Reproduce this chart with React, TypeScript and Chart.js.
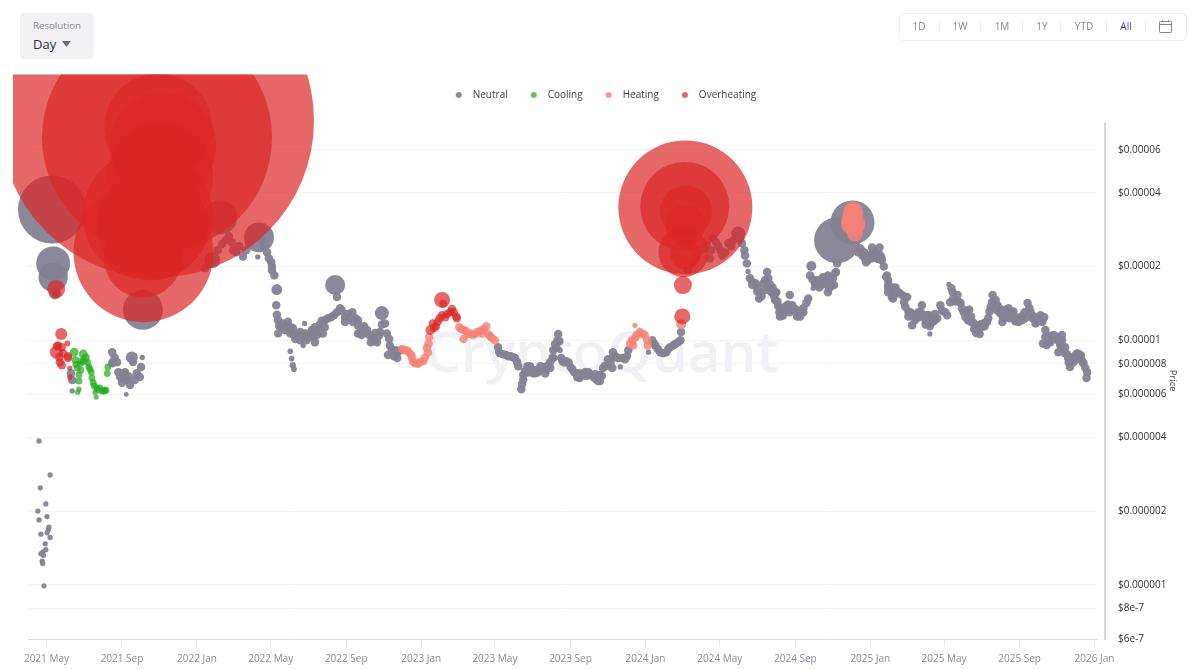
import React, { useEffect, useRef } from "react";
import { Chart, registerables } from "chart.js";

Chart.register(...registerables);

// x = days since 1 May 2021; price in millionths of a dollar; optional third value = bubble size value
type Row = number[];

const PRICE_UNIT = 1e-6;
const DEFAULT_SIZE = 18;

const tickDays = [0, 123, 245, 365, 488, 610, 730, 853, 975, 1096, 1219, 1341, 1461, 1584, 1706];
const tickLabels = ["2021 May", "2021 Sep", "2022 Jan", "2022 May", "2022 Sep", "2023 Jan", "2023 May", "2023 Sep", "2024 Jan", "2024 May", "2024 Sep", "2025 Jan", "2025 May", "2025 Sep", "2026 Jan"];
const priceTicks = [6e-5, 4e-5, 2e-5, 1e-5, 8e-6, 6e-6, 4e-6, 2e-6, 1e-6, 8e-7, 6e-7];
const priceTickLabels = ["$0.00006", "$0.00004", "$0.00002", "$0.00001", "$0.000008", "$0.000006", "$0.000004", "$0.000002", "$0.000001", "$8e-7", "$6e-7"];

const neutralLaunch: Row[] = [
  [-12, 3.87, 7], [6, 2.81, 7], [-10, 2.49, 7], [-1, 2.14, 7], [-14, 2.0, 7], [-12, 1.84, 7], [1, 1.9, 7], [4, 1.72, 7], [3, 1.68, 7], [1, 1.63, 7],
  [-9, 1.61, 7], [6, 1.56, 7], [-2, 1.47, 7], [-1, 1.39, 7], [-6, 1.36, 7], [-9, 1.34, 7], [-5, 1.32, 7], [-7, 1.25, 7], [-6, 1.22, 7], [-4, 0.99, 7],
];

const neutralBubbles: Row[] = [
  [9, 34.2, 1156], [11, 20.6, 289], [11, 18.1, 216], [14, 15.5, 36], [157, 13.3, 400], [283, 31.8, 289], [270, 21.2, 64], [346, 26.3, 225],
  [470, 16.8, 100], [546, 12.9, 49], [1245, 20.1, 25], [1287, 25.6, 529], [1312, 30.3, 484], [375, 16.1, 30], [1126, 27.3, 49],
];

const neutral2021: Row[] = [
  [42, 6.87], [40, 7.33], [42, 6.2, 7], [107, 8.93], [108, 8.13], [107, 8.05], [115, 8.13], [117, 7.4], [120, 7.07], [128, 7.4], [131, 6.87],
  [136, 6.55], [123, 6.7], [130, 6.0, 6], [139, 8.5, 36], [141, 8.13, 16], [156, 8.5, 7], [154, 7.77], [147, 7.33], [152, 7.07], [144, 6.87],
  [124, 7.0], [134, 7.1], [111, 8.5], [126, 7.3],
];

const neutral2022: Row[] = [
  [258, 19.7], [265, 20.8], [270, 22.0], [275, 21.6], [279, 23.3], [286, 24.7], [292, 25.6], [297, 26.6], [302, 25.1], [304, 23.3], [309, 22.9], [314, 24.2],
  [320, 22.0], [325, 23.3], [330, 24.7], [335, 26.1], [340, 27.1], [344, 21.9, 7], [351, 25.6], [354, 24.2], [359, 22.9], [362, 21.6], [366, 20.8], [367, 20.0],
  [367, 19.3], [371, 18.4], [374, 13.9], [375, 12.7], [377, 12.07], [379, 11.4], [377, 10.65, 16], [382, 11.4], [385, 11.7], [390, 11.4], [393, 11.9], [397, 11.3],
  [397, 10.65], [401, 10.65], [405, 10.5], [405, 10.1], [410, 10.6], [413, 10.8], [416, 10.5], [418, 9.5, 7], [420, 11.7, 7], [421, 10.65], [426, 10.3], [429, 10.65],
  [432, 11], [437, 11.3], [437, 9.8], [442, 10.65], [445, 11.1], [448, 12], [450, 10.65], [453, 12.07], [458, 12.3], [463, 12.4], [468, 12.65], [473, 15], [473, 13],
  [478, 13.5], [481, 13.2], [486, 12.4], [491, 12.8], [498, 13], [499, 11.85], [503, 12.3], [507, 11.5], [507, 10.65], [512, 11.1], [517, 11.4], [522, 11], [527, 10.4],
  [532, 10.3], [535, 10], [538, 9.8], [541, 10.4], [543, 10.8], [546, 11.6], [551, 11.7], [554, 10.65], [558, 10.1], [559, 9.5], [562, 9.2], [556, 8.7], [568, 9.1],
  [566, 8.6], [571, 8.9], [571, 8.45], [576, 9.1],
  [397, 9.0, 8], [399, 8.4, 8], [401, 7.9, 10], [403, 7.6, 8],
  [388, 11], [401, 11.2], [413, 10], [423, 10], [432, 10.3], [440, 10.5], [445, 11.6], [453, 11.3], [486, 11.85], [495, 12.3], [507, 12.07], [513, 10.5], [520, 10.7], [528, 9.8], [535, 10.7],
];

const neutral2023: Row[] = [
  [735, 9.35], [737, 8.95], [738, 8.85], [743, 8.75], [748, 8.7], [752, 8.6], [756, 8.6], [760, 8.5], [763, 8.45], [766, 8.15], [768, 7.82], [774, 6.61], [773, 6.3],
  [776, 6.87], [776, 7.2], [779, 7.47], [783, 7.82], [784, 7.4], [789, 7.6], [792, 7.33], [796, 7.54], [800, 7.4], [805, 7.69], [809, 7.77], [813, 7.6], [817, 7.9],
  [820, 8.15], [824, 8.5], [825, 9.1], [828, 9.63], [832, 10], [833, 10.6], [835, 9.9], [836, 9.1, 8], [838, 8.45], [840, 8.2], [843, 8.1], [846, 8.2], [850, 8.1],
  [853, 7.77], [856, 7.6], [859, 7.4], [864, 7.05], [866, 7.33], [870, 7.2], [874, 7.33], [879, 7.13], [882, 7.4], [885, 7.25], [889, 7.13], [892, 7], [896, 6.87],
  [901, 6.8], [904, 7.13], [906, 7.69], [909, 7.85], [914, 7.85], [918, 8.05], [921, 8.45], [922, 8.93], [926, 8.6], [930, 8.45], [934, 7.77, 7], [937, 8.45], [942, 8.35],
  [945, 8.6], [947, 9.1], [980, 8.93, 7], [986, 10], [989, 9.7], [991, 9.5], [995, 9.2], [999, 8.93], [1004, 8.85], [1009, 8.93], [1012, 9.2], [1015, 9.35], [1020, 9.5],
  [1023, 9.63], [1028, 9.8], [1032, 10], [1033, 10.8],
  [783, 7.4], [787, 7.82], [796, 7.33], [804, 7.82], [812, 7.3], [820, 7.69], [825, 8.45], [830, 9.3], [868, 7], [877, 7.4], [893, 7.25], [898, 6.8], [914, 8.35], [921, 7.69], [901, 7.2],
];

const neutral2024: Row[] = [
  [1044, 19.3], [1051, 20.8], [1058, 22], [1064, 23.3], [1071, 23.7], [1075, 24.4], [1080, 21.6], [1082, 23.3], [1085, 26.1], [1090, 25.1], [1093, 24.4], [1097, 23.3],
  [1100, 22.2], [1105, 22.9], [1110, 24.9], [1115, 24.2], [1118, 25.6], [1123, 26.6], [1129, 26.1], [1132, 24.9], [1136, 23.3], [1137, 22.2], [1140, 20.6], [1142, 19.1, 7],
  [1145, 17.9], [1149, 17.3], [1154, 17.1], [1157, 16.4], [1160, 14.8], [1162, 15.7], [1167, 17.1], [1170, 17.6], [1173, 19], [1175, 17.9], [1178, 16.9], [1182, 16.4],
  [1183, 15.5], [1186, 15.7], [1190, 14.4], [1191, 13.8], [1193, 13], [1194, 13.5], [1198, 13.2], [1202, 13.3], [1207, 14], [1210, 15.3], [1214, 13.9], [1219, 13.4],
  [1223, 13], [1227, 13.2], [1232, 13.5], [1237, 14.2], [1240, 14.8], [1248, 16.3, 7], [1243, 18.4], [1247, 17.7], [1251, 17], [1255, 17.6], [1260, 17.4], [1264, 18.1],
  [1269, 17.1], [1272, 18.4], [1276, 16.5], [1276, 17.4], [1280, 17.9], [1284, 18.8], [1287, 20.6],
  [1149, 16.8], [1157, 15.8], [1164, 15.1], [1169, 16], [1175, 16.4], [1180, 15.7], [1185, 15], [1188, 15.7],
  [1202, 13.7], [1186, 14.6], [1210, 13], [1222, 12.5], [1232, 13], [1227, 12.5], [1199, 12.6], [1194, 12.5], [1215, 13.3],
  [1263, 16.9], [1268, 17.9], [1274, 16.3], [1279, 16.9], [1272, 15.7], [1282, 16.8], [1258, 16.4], [1253, 16.9], [1285, 19],
];

const neutral2025: Row[] = [
  [1328, 22.2], [1325, 23.7], [1332, 21.6], [1337, 21.2], [1341, 22.4], [1344, 23.9], [1349, 22.9], [1352, 21.6], [1356, 23.9], [1356, 22.4], [1360, 21.2], [1363, 20],
  [1368, 18.4], [1370, 17.6], [1370, 16.8], [1373, 16.6], [1378, 16.3], [1376, 15], [1383, 15.8], [1388, 15.5], [1393, 15.3], [1398, 15], [1401, 15], [1396, 14.3],
  [1398, 13.7], [1403, 13.1], [1406, 13], [1409, 11.5], [1411, 12.5], [1414, 12.65], [1419, 13], [1425, 13.9], [1427, 12.65], [1432, 12.65], [1438, 12.3], [1438, 10.6, 7],
  [1438, 11.4], [1443, 11.9], [1446, 12.07], [1450, 12.3], [1455, 13.9], [1458, 13.2], [1463, 13], [1466, 12.65], [1469, 16.9, 7], [1473, 16.3], [1475, 15.7], [1471, 14.3],
  [1476, 14.8], [1480, 14.4], [1483, 15.3], [1485, 14.4], [1488, 14.2], [1490, 13.5], [1493, 13], [1497, 13.2], [1502, 13.3], [1500, 12.07], [1505, 12.5], [1508, 11.85],
  [1512, 11.4], [1513, 10.7], [1517, 11.5], [1520, 11.6], [1525, 11.7], [1529, 11.85], [1533, 12.3], [1535, 13.1], [1537, 13.7], [1539, 14.3], [1540, 15.3], [1545, 14.6],
  [1548, 13.9], [1551, 13.5], [1554, 12.8], [1556, 11.85], [1559, 12.5], [1561, 13.3], [1566, 13.5], [1569, 13], [1574, 13.1], [1577, 12.4], [1580, 12.07], [1585, 12.3],
  [1588, 12.07], [1592, 13], [1597, 14.2], [1600, 13.5], [1602, 13], [1607, 12.5], [1610, 11.7], [1615, 12.2], [1618, 12.65], [1621, 11.85], [1626, 11], [1622, 9.7],
  [1626, 10.3], [1631, 10], [1634, 10.4], [1639, 10.5], [1642, 10.2], [1646, 10], [1650, 10], [1653, 10], [1647, 8.93], [1652, 9.35], [1655, 9.28], [1658, 8.85],
  [1663, 8.45], [1661, 8.75], [1666, 7.77], [1670, 8.45], [1675, 8.7], [1678, 8.85], [1680, 8.5], [1683, 8.45], [1686, 8.2], [1688, 8.05], [1691, 7.69], [1694, 7.4], [1693, 7.0],
  [1331, 22.9], [1321, 22.9], [1337, 22.2], [1344, 21.6], [1351, 22.4], [1355, 21.4], [1359, 21.8], [1334, 20.8],
  [1367, 18.1], [1370, 16.4], [1377, 16.3], [1382, 16.4], [1387, 15.7], [1377, 15.3], [1378, 14.8], [1370, 15.7],
  [1403, 12.5], [1409, 12.8], [1414, 12.07], [1419, 12.4], [1423, 13], [1431, 12.07], [1436, 12.65], [1443, 12.3], [1446, 12.8], [1425, 12.5], [1431, 11.6], [1437, 11.85],
  [1496, 12.4], [1505, 11.85], [1510, 11.1], [1517, 11], [1522, 11.3], [1527, 11.4], [1531, 11.85], [1519, 10.6],
  [1546, 13.3], [1551, 13], [1557, 13], [1563, 12.5], [1567, 12.3], [1572, 12.5], [1577, 11.95], [1582, 11.85], [1587, 12.5], [1593, 12.3], [1605, 12.3], [1611, 12.07], [1618, 12.07], [1624, 12.4], [1557, 12.3],
  [1628, 9.55], [1634, 9.8], [1642, 10.4], [1650, 9.55], [1653, 10.5], [1658, 9.35], [1667, 8.5], [1671, 8.1], [1675, 8.3], [1681, 8.75], [1676, 8.45], [1684, 8.65], [1664, 8.1],
];

const coolingPoints: Row[] = [
  [45, 8.93, 20], [47, 8.29, 14], [50, 7.69, 12], [56, 7.54, 12], [53, 7.2, 12], [53, 6.8, 12], [53, 6.3, 7], [51, 6.13, 7], [60, 8.77, 20], [64, 8.5, 16], [61, 8.2, 14], [69, 7.77, 12],
  [73, 7.4, 12], [74, 7, 12], [76, 6.7, 12], [82, 6.37, 12], [79, 6.13, 7], [81, 5.85, 7], [91, 6.2, 12], [95, 6.25, 12], [87, 6.37, 12], [100, 7.77, 12], [99, 7.3, 12], [67, 8.1, 12], [71, 7.6, 12],
  [78, 6.5, 12], [84, 6.25, 12], [93, 6.2, 12], [97, 6.22, 12], [57, 8.2, 12], [48, 7.95, 12], [55, 8.0, 12],
];

const heatingPoints: Row[] = [
  [579, 9.2], [582, 9.1], [587, 9.1], [590, 8.9], [594, 8.7], [595, 8.45], [597, 8.15], [600, 8.05], [605, 8], [608, 8.15], [613, 8.2], [616, 8.5], [621, 8.9], [619, 9.3],
  [623, 10.3], [622, 9.7], [672, 11.3], [675, 11.1], [679, 11], [683, 10.9], [686, 10.6], [690, 10.65], [679, 10.1], [694, 10.5], [698, 10.6], [701, 10.8], [706, 10.9],
  [709, 10.65], [712, 11.1], [716, 11.4], [719, 10.6], [722, 10.4], [725, 10.2], [730, 10], [950, 9.7], [955, 9.5], [953, 10], [958, 10.2], [961, 10.5], [966, 10.8],
  [958, 11.5, 7], [970, 10.6], [974, 10.5], [978, 10], [979, 9.5], [1033, 11.6, 25],
  [1313, 33.9, 81], [1313, 32.9, 100], [1313, 30, 144], [1316, 27.3, 64], [1310, 31, 100], [1315, 29, 100],
];

const overheatingPoints: Row[] = [
  [24, 10.6, 36], [16, 8.93, 42], [19, 9.5], [25, 9.35], [21, 8.5], [22, 8.13], [25, 7.9], [34, 9.7, 9], [35, 8.6], [35, 8.45], [38, 7.69, 7], [38, 7.07, 7], [27, 8.85], [17, 9.45],
  [16, 16.2, 81], [16, 15.5, 12],
  [629, 11.7], [631, 11.2], [634, 11.4], [637, 11.9], [640, 12.3], [644, 12.65], [649, 12.4], [652, 12.8], [657, 13], [660, 13.4], [663, 13], [667, 12.5], [668, 12.3],
  [625, 11, 25], [644, 14.6, 64], [646, 14.1, 16],
  [1036, 16.8, 81], [1035, 12.5, 64],
];

const overheatingBubbles: Row[] = [
  [180, 79, 24649], [180, 67.4, 13225], [182, 74, 2916], [190, 62.5, 2809], [185, 47.1, 2809], [165, 32.4, 4225], [172, 29.5, 3025], [158, 22.9, 4900], [157, 21.6, 1521],
  [1040, 34.9, 4489], [1039, 35.2, 1980], [1041, 33.6, 676], [1037, 22.9, 625], [1040, 22.4, 225], [1040, 29.6, 400],
];

const neutralPoints = [...neutralLaunch, ...neutralBubbles, ...neutral2021, ...neutral2022, ...neutral2023, ...neutral2024, ...neutral2025];
const toBubbles = (rows: Row[]) =>
  rows.map(([x, p, size]) => ({ x, y: p * PRICE_UNIT, r: Math.sqrt(size ?? DEFAULT_SIZE) }));

const FONT = '"Open Sans", "Noto Sans", sans-serif';
const rangeButtons = ["1D", "1W", "1M", "1Y", "YTD", "All"];
const rangeCenters = [919, 960, 1002, 1042, 1084, 1126];
const rangeSeps = [938.5, 980, 1022, 1060, 1106, 1145];

const legendDot = (color: string) => {
  const c = document.createElement("canvas");
  c.width = 8;
  c.height = 8;
  const g = c.getContext("2d")!;
  g.fillStyle = color;
  g.beginPath();
  g.arc(4, 4, 3, 0, Math.PI * 2);
  g.fill();
  return c;
};

const axisLine = {
  id: "priceAxisLine",
  beforeLayout(chart: any) {
    // Leaves the gap between the legend row and the top of the plot.
    const legend = chart.legend;
    if (!legend.__fitPatched) {
      const fit = legend.fit;
      legend.fit = function () { fit.call(this); this.height += 12.5; };
      legend.__fitPatched = true;
    }
  },
  beforeDatasetsDraw(chart: any) {
    const { ctx, chartArea } = chart;
    ctx.save();
    ctx.fillStyle = "#d6d6de";
    ctx.fillRect(chartArea.right + 7, chartArea.top, 2, chartArea.bottom - chartArea.top + 1);
    ctx.restore();
  },
};

export default function App() {
  const ref = useRef<HTMLCanvasElement>(null);
  useEffect(() => {
    if (!ref.current) return;
    const clip = { left: 15, top: 48, right: 0, bottom: 0 };
    const chart = new Chart(ref.current, {
      type: "bubble",
      plugins: [axisLine],
      data: {
        datasets: [
          { label: "Neutral", data: toBubbles(neutralPoints), backgroundColor: "rgba(132,130,148,0.95)", borderWidth: 0, order: 4, clip },
          { label: "Cooling", data: toBubbles(coolingPoints), backgroundColor: "rgba(40,170,30,0.72)", borderWidth: 0, order: 3, clip },
          { label: "Heating", data: toBubbles(heatingPoints), backgroundColor: "rgba(245,130,120,0.82)", borderWidth: 0, order: 2, clip },
          { label: "Overheating", data: toBubbles([...overheatingPoints, ...overheatingBubbles]), backgroundColor: "rgba(220,38,38,0.7)", borderWidth: 0, order: 1, clip },
        ],
      } as any,
      options: {
        responsive: false,
        animation: false,
        layout: { autoPadding: false, padding: { left: 28, top: 73, right: 22, bottom: 0 } },
        plugins: {
          tooltip: { enabled: false },
          legend: {
            position: "top",
            labels: {
              usePointStyle: true,
              boxHeight: 4,
              pointStyleWidth: 18,
              padding: 17,
              color: "#3f3f46",
              font: { family: FONT, size: 10 },
              sort: (a: any, b: any) => a.datasetIndex - b.datasetIndex,
              generateLabels: (c: any) =>
                (Chart.defaults.plugins.legend.labels as any).generateLabels(c).map((item: any) => ({
                  ...item,
                  pointStyle: legendDot(item.fillStyle),
                })),
            },
          },
        },
        scales: {
          x: {
            type: "linear",
            min: -30,
            max: 1710,
            afterFit: (s: any) => { s.height = 30; },
            afterBuildTicks: (s: any) => { s.ticks = tickDays.map((value) => ({ value })); },
            grid: { drawOnChartArea: false, tickLength: 8, tickColor: "#e6e6ea" },
            border: { color: "#dddde3" },
            ticks: {
              autoSkip: false,
              maxRotation: 0,
              padding: 6,
              color: "#8b8b93",
              font: { family: FONT, size: 10 },
              callback: (_v: any, i: number) => tickLabels[i],
            },
          },
          y: {
            type: "logarithmic",
            position: "right",
            min: 6e-7,
            max: 7.76e-5,
            afterFit: (s: any) => { s.width = 81; },
            afterBuildTicks: (s: any) => { s.ticks = priceTicks.map((value) => ({ value })); },
            grid: { color: "#f4f4f6", drawTicks: false },
            border: { display: false },
            title: { display: true, text: "Price", color: "#3f3f46", font: { family: FONT, size: 9.5 }, padding: { top: 0, bottom: 0 } },
            ticks: {
              autoSkip: false,
              padding: 21,
              color: "#2f2f36",
              font: { family: FONT, size: 10 },
              callback: (_v: any, i: number) => priceTickLabels[i],
            },
          },
        },
      } as any,
    });
    return () => chart.destroy();
  }, []);

  return (
    <div style={{ position: "fixed", left: 0, top: 0, width: 1200, height: 669, background: "#fff", overflow: "hidden", fontFamily: FONT }}>
      <div style={{ position: "absolute", left: 425, top: 309, fontSize: 56.5, fontWeight: 600, lineHeight: "84px", color: "#f0f0f5", whiteSpace: "nowrap" }}>CryptoQuant</div>
      <canvas ref={ref} width={1200} height={669} style={{ position: "absolute", left: 0, top: 0, width: 1200, height: 669 }} />
      <div style={{ position: "absolute", left: 20, top: 13, width: 74, height: 46, background: "#f2f2f5", borderRadius: 4 }}>
        <div style={{ position: "absolute", left: 13, top: 6, fontSize: 9.7, color: "#85858c" }}>Resolution</div>
        <div style={{ position: "absolute", left: 13, top: 22, fontSize: 13, color: "#2c2c33" }}>Day</div>
        <svg style={{ position: "absolute", left: 42, top: 28 }} width="10" height="7"><path d="M0 0H9L4.5 6Z" fill="#6b6b73" /></svg>
      </div>
      <div style={{ position: "absolute", left: 899, top: 13, width: 286, height: 26, border: "1px solid #eeeef1", borderRadius: 5 }} />
      {rangeButtons.map((b, i) => (
        <div key={b} style={{ position: "absolute", left: rangeCenters[i] - 20, width: 40, top: 19, textAlign: "center", fontSize: 10, color: b === "All" ? "#5a3fc0" : "#85858c" }}>{b}</div>
      ))}
      {rangeSeps.map((x) => (
        <div key={x} style={{ position: "absolute", left: x, top: 20, width: 1, height: 13, background: "#eeeef1" }} />
      ))}
      <svg style={{ position: "absolute", left: 1159, top: 20 }} width="13" height="13" viewBox="0 0 13 13" fill="none" stroke="#85858c" strokeWidth="1">
        <rect x="0.5" y="1.5" width="12" height="11" rx="1" />
        <path d="M0.5 4.5H12.5M3.5 0V2M9.5 0V2" />
      </svg>
    </div>
  );
}
